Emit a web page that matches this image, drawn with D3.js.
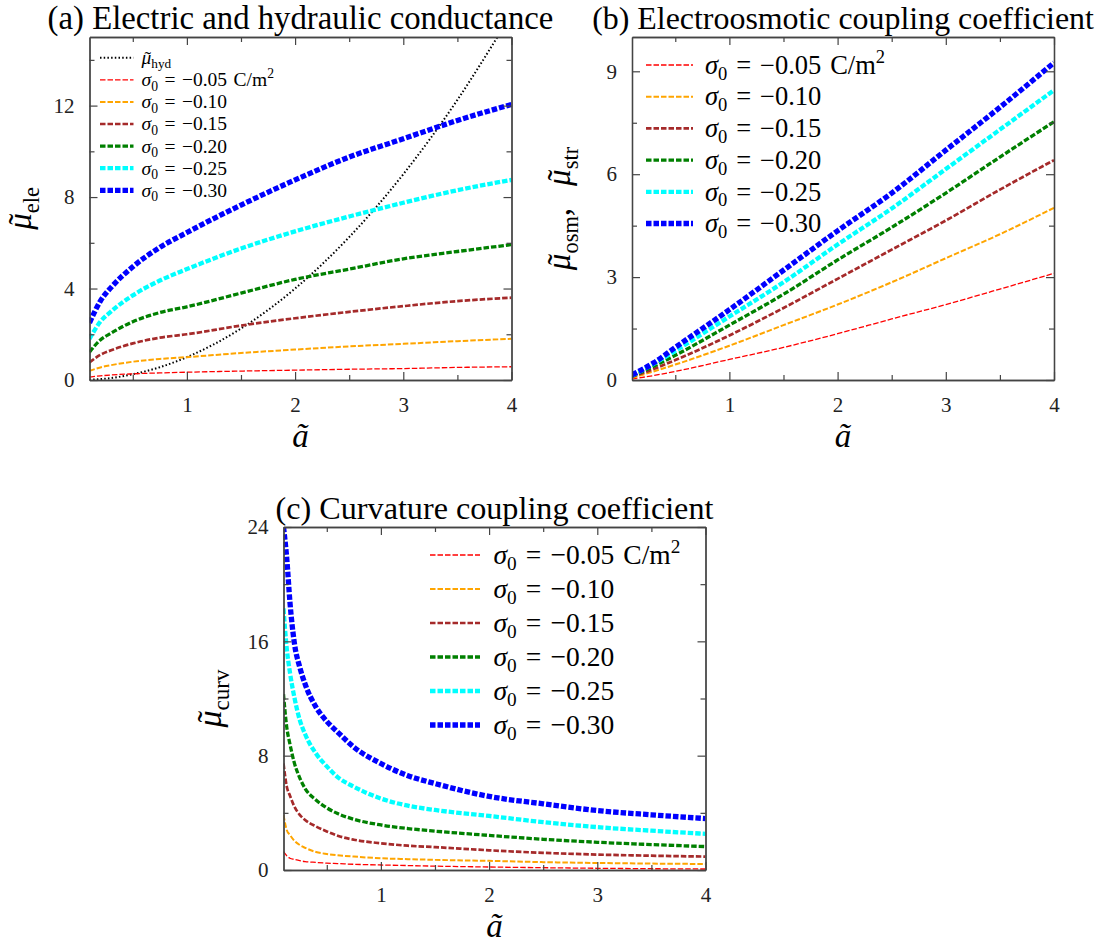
<!DOCTYPE html>
<html>
<head>
<meta charset="utf-8">
<script src="https://cdn.jsdelivr.net/npm/d3@7"></script>
<style>
  body { margin: 0; background: #fff; }
  svg text { font-family: "Liberation Serif", "Times New Roman", serif; fill: #000; }
</style>
</head>
<body>
<div class="chart"></div>
<script>

// ---- panel (a): electric conductance ----
var aEle  = [0.1, 0.2, 0.3, 0.5, 0.75, 1, 1.5, 2, 2.5, 3, 3.5, 4];
var ele05 = [0.13, 0.18, 0.22, 0.27, 0.31, 0.34, 0.39, 0.43, 0.47, 0.50, 0.55, 0.58];
var ele10 = [0.40, 0.55, 0.65, 0.80, 0.92, 1.00, 1.18, 1.33, 1.47, 1.58, 1.70, 1.80];
var ele15 = [0.77, 1.10, 1.30, 1.60, 1.85, 2.00, 2.38, 2.70, 2.98, 3.23, 3.45, 3.60];
var ele20 = [1.22, 1.75, 2.05, 2.55, 2.95, 3.20, 3.80, 4.40, 4.85, 5.30, 5.62, 5.92];
var ele25 = [1.80, 2.55, 3.00, 3.70, 4.35, 4.85, 5.75, 6.50, 7.15, 7.75, 8.30, 8.75];
var ele30 = [2.50, 3.45, 4.05, 4.95, 5.80, 6.45, 7.65, 8.75, 9.75, 10.55, 11.35, 12.05];

// hydraulic conductance (dotted)
var aHyd  = [0.1, 0.25, 0.5, 0.75, 1, 1.5, 2, 2.5, 3, 3.5, 3.87, 4];
var muHyd = [0.01, 0.06, 0.25, 0.56, 1.0, 2.25, 4.0, 6.25, 9.0, 12.25, 15.0, 16.0];

// ---- panel (b): electroosmotic coupling ----
var aOsm  = [0.1, 0.3, 0.5, 1, 1.5, 2, 2.5, 3, 3.5, 4];
var osm05 = [0.03, 0.13, 0.25, 0.60, 0.95, 1.35, 1.78, 2.20, 2.65, 3.11];
var osm10 = [0.06, 0.25, 0.45, 1.00, 1.60, 2.20, 2.85, 3.55, 4.25, 5.02];
var osm15 = [0.09, 0.32, 0.58, 1.30, 2.10, 2.95, 3.80, 4.65, 5.55, 6.41];
var osm20 = [0.11, 0.40, 0.72, 1.60, 2.50, 3.50, 4.45, 5.45, 6.50, 7.53];
var osm25 = [0.13, 0.47, 0.85, 1.85, 2.85, 3.95, 5.00, 6.15, 7.30, 8.45];
var osm30 = [0.15, 0.50, 0.95, 2.05, 3.20, 4.35, 5.45, 6.70, 7.95, 9.25];

// ---- panel (c): curvature coupling ----
var aCurv  = [0.1, 0.13, 0.16, 0.2, 0.25, 0.3, 0.4, 0.5, 0.6, 0.75, 1, 1.25, 1.5, 2, 2.5, 3, 3.5, 4];
var curv05 = [1.28, 1.00, 0.82, 0.74, 0.65, 0.59, 0.53, 0.48, 0.45, 0.40, 0.35, 0.31, 0.27, 0.21, 0.16, 0.12, 0.09, 0.07];
var curv10 = [3.85, 2.80, 2.45, 2.05, 1.75, 1.55, 1.26, 1.12, 1.03, 0.94, 0.82, 0.76, 0.71, 0.64, 0.55, 0.49, 0.45, 0.42];
var curv15 = [7.45, 5.85, 5.20, 4.45, 3.86, 3.50, 3.05, 2.70, 2.40, 2.12, 1.87, 1.70, 1.60, 1.38, 1.20, 1.08, 1.00, 0.94];
var curv20 = [12.3, 10.0, 8.80, 7.50, 6.45, 5.70, 4.90, 4.35, 3.95, 3.55, 3.15, 2.90, 2.72, 2.42, 2.15, 1.94, 1.78, 1.64];
var curv25 = [18.3, 15.5, 13.8, 12.1, 10.5, 9.50, 8.15, 7.25, 6.50, 5.83, 5.00, 4.50, 4.20, 3.78, 3.35, 3.00, 2.75, 2.53];
var curv30 = [24.0, 21.8, 18.7, 15.9, 14.2, 13.0, 11.4, 10.4, 9.65, 8.60, 7.45, 6.60, 6.05, 5.15, 4.63, 4.16, 3.86, 3.60];

var sigmaLabels = ["0.05", "0.10", "0.15", "0.20", "0.25", "0.30"];
var xMajor = [1, 2, 3, 4],
    xMinor = [0.5, 1.5, 2.5, 3.5];

// styles
var sigmaColors = ["#ff0000", "#ffa500", "#a52a2a", "#008000", "#00ffff", "#0000ff"];
var sigmaWidths = [1.3, 2, 2.7, 3.3, 4.3, 5.3];
var dash = "5.5,2";
var axisColor = "#444";
var serif = "'Liberation Serif', 'Times New Roman', serif";
var sp = "\u2004";   // a bit wider than a normal space, like TeX math spacing

var W = 1102, H = 944;
var boxW = 422, boxH = 343;

var svg = d3.select(".chart")
  .append("svg")
    .attr("width", W)
    .attr("height", H);

function zip(xs, ys) {
  var out = [];
  for (var i = 0; i < xs.length; i++) out.push([xs[i], ys[i]]);
  return out;
}

function measure(str, size, italic) {
  var t = svg.append("text")
    .style("font-size", size + "px")
    .style("font-style", italic ? "italic" : "normal")
    .text(str);
  var w = t.node().getComputedTextLength();
  t.remove();
  return w;
}

// italic mu with a tilde accent placed over it, then a subscript
function appendMuTilde(t, size, sub, subShift) {
  var wMu = measure("μ", size, true),
      wT  = measure("\u02DC", size, false),
      kern = size * 0.07;
  t.append("tspan").style("font-style", "italic").text("μ");
  t.append("tspan")
    .attr("dx", -(wMu + wT) / 2 + kern)
    .attr("dy", size * 0.02)
    .text("\u02DC");
  t.append("tspan")
    .attr("dx", (wMu - wT) / 2 - kern)
    .attr("dy", subShift - size * 0.02)
    .style("font-size", (size * 0.68) + "px")
    .text(sub);
}

// sigma_0 = -0.xx (C/m^2)
function sigmaText(g, x, y, size, value, unit) {
  var t = g.append("text")
    .attr("x", x)
    .attr("y", y + size * 0.33)
    .style("font-size", size + "px");
  t.append("tspan").style("font-style", "italic").text("σ");
  t.append("tspan").attr("dy", size * 0.22).style("font-size", (size * 0.7) + "px").text("0");
  t.append("tspan").attr("dy", -size * 0.22).text(sp + "=" + sp + "−" + value);
  if (unit) {
    t.append("tspan").text(sp + "C/m");
    t.append("tspan").attr("dy", -size * 0.4).style("font-size", (size * 0.7) + "px").text("2");
  }
  return t;
}

function drawPanel(opt) {

  var g = svg.append("g")
    .attr("transform", "translate(" + opt.left + "," + opt.top + ")");

  var x = d3.scaleLinear().domain([0.1, 4]).range([0, boxW]);
  var y = d3.scaleLinear().domain([0, opt.yMax]).range([boxH, 0]);

  var clipId = "clip-" + opt.id;
  g.append("clipPath").attr("id", clipId)
    .append("rect").attr("width", boxW).attr("height", boxH);

  var line = d3.line()
    .x(function(d) { return x(d[0]); })
    .y(function(d) { return y(d[1]); })
    .curve(d3.curveMonotoneX);

  var plot = g.append("g").attr("clip-path", "url(#" + clipId + ")");

  if (opt.hyd) {
    plot.append("path")
      .attr("d", line(zip(aHyd, muHyd)))
      .style("fill", "none")
      .style("stroke", "#000")
      .style("stroke-width", 2)
      .style("stroke-dasharray", "1.5,2.2");
  }

  for (var i = 0; i < opt.series.length; i++) {
    plot.append("path")
      .attr("d", line(zip(opt.xs, opt.series[i])))
      .style("fill", "none")
      .style("stroke", sigmaColors[i])
      .style("stroke-width", sigmaWidths[i])
      .style("stroke-dasharray", dash);
  }

  // axes: ticks point inward on all four sides
  var axes = [
    g.append("g").attr("transform", "translate(0," + boxH + ")")
      .call(d3.axisBottom(x).tickValues(xMajor).tickSize(-8).tickSizeOuter(0).tickPadding(17).tickFormat(d3.format("d"))),
    g.append("g").attr("transform", "translate(0," + boxH + ")")
      .call(d3.axisBottom(x).tickValues(xMinor).tickSize(-5).tickSizeOuter(0).tickFormat("")),
    g.append("g")
      .call(d3.axisTop(x).tickValues(xMajor).tickSize(-8).tickSizeOuter(0).tickFormat("")),
    g.append("g")
      .call(d3.axisTop(x).tickValues(xMinor).tickSize(-5).tickSizeOuter(0).tickFormat("")),
    g.append("g")
      .call(d3.axisLeft(y).tickValues(opt.yMajor).tickSize(-8).tickSizeOuter(0).tickPadding(15).tickFormat(d3.format("d"))),
    g.append("g")
      .call(d3.axisLeft(y).tickValues(opt.yMinor).tickSize(-5).tickSizeOuter(0).tickFormat("")),
    g.append("g").attr("transform", "translate(" + boxW + ",0)")
      .call(d3.axisRight(y).tickValues(opt.yMajor).tickSize(-8).tickSizeOuter(0).tickFormat("")),
    g.append("g").attr("transform", "translate(" + boxW + ",0)")
      .call(d3.axisRight(y).tickValues(opt.yMinor).tickSize(-5).tickSizeOuter(0).tickFormat(""))
  ];
  axes.forEach(function(a) {
    a.attr("font-family", serif).attr("font-size", 21);
    a.select(".domain").style("stroke", axisColor).style("stroke-width", 1.3);
    a.selectAll(".tick line").style("stroke", axisColor).style("stroke-width", 1.2);
    a.selectAll(".tick text")
      .style("font-family", serif)
      .style("font-size", "21px")
      .style("fill", "#222");
  });

  // title
  var title = g.append("text")
    .attr("x", boxW / 2)
    .attr("y", -8)
    .style("text-anchor", "middle")
    .style("font-size", "30px")
    .text(opt.title);
  var tw = title.node().getComputedTextLength();
  title.style("font-size", (30 * opt.titleWidth / tw) + "px");

  // x label
  g.append("text")
    .attr("x", boxW / 2)
    .attr("y", boxH + 67)
    .style("text-anchor", "middle")
    .style("font-size", "33px")
    .style("font-style", "italic")
    .text("ã");

  // y label (rotated)
  var ys = opt.yLabelSize;
  var yl = g.append("text")
    .style("font-size", ys + "px")
    .style("text-anchor", "middle")
    .attr("transform", "translate(" + opt.yLabelX + "," + (boxH / 2) + ") rotate(-90)");
  for (var p = 0; p < opt.yParts.length; p++) {
    if (p > 0) yl.append("tspan").attr("dy", -ys * 0.25).text("," + sp + sp);
    appendMuTilde(yl, ys, opt.yParts[p], ys * 0.25);
  }

  // legend
  var L = opt.legend;
  var row = 0;
  if (opt.hyd) {
    g.append("line")
      .attr("x1", L.x1).attr("x2", L.x2)
      .attr("y1", L.y).attr("y2", L.y)
      .style("stroke", "#000")
      .style("stroke-width", 2)
      .style("stroke-dasharray", "1.5,2.2");
    var ht = g.append("text")
      .attr("x", L.tx)
      .attr("y", L.y + L.size * 0.33)
      .style("font-size", L.size + "px");
    appendMuTilde(ht, L.size, "hyd", L.size * 0.2);
    row = 1;
  }
  for (var k = 0; k < sigmaLabels.length; k++) {
    var ly = L.y + (row + k) * L.step;
    g.append("line")
      .attr("x1", L.x1).attr("x2", L.x2)
      .attr("y1", ly).attr("y2", ly)
      .style("stroke", sigmaColors[k])
      .style("stroke-width", sigmaWidths[k])
      .style("stroke-dasharray", dash);
    sigmaText(g, L.tx, ly, L.size, sigmaLabels[k], k == 0);
  }
}

drawPanel({
  id: "a", left: 89.5, top: 37, yMax: 15,
  yMajor: [0, 4, 8, 12], yMinor: [2, 6, 10, 14],
  xs: aEle, series: [ele05, ele10, ele15, ele20, ele25, ele30], hyd: true,
  title: "(a) Electric and hydraulic conductance", titleWidth: 506,
  yParts: ["ele"], yLabelX: -58.5, yLabelSize: 33,
  legend: { x1: 10.5, x2: 44, tx: 52, y: 20.7, step: 22.1, size: 19.5 }
});

drawPanel({
  id: "b", left: 632, top: 37, yMax: 10,
  yMajor: [0, 3, 6, 9], yMinor: [1.5, 4.5, 7.5],
  xs: aOsm, series: [osm05, osm10, osm15, osm20, osm25, osm30], hyd: false,
  title: "(b) Electroosmotic coupling coefficient", titleWidth: 502,
  yParts: ["osm", "str"], yLabelX: -62, yLabelSize: 33,
  legend: { x1: 14, x2: 61, tx: 73, y: 28, step: 31.7, size: 26.5 }
});

drawPanel({
  id: "c", left: 283.5, top: 527, yMax: 24,
  yMajor: [0, 8, 16, 24], yMinor: [4, 12, 20],
  xs: aCurv, series: [curv05, curv10, curv15, curv20, curv25, curv30], hyd: false,
  title: "(c) Curvature coupling coefficient", titleWidth: 438,
  yParts: ["curv"], yLabelX: -63, yLabelSize: 34,
  legend: { x1: 146.5, x2: 196.5, tx: 210, y: 28, step: 34, size: 27.5 }
});

</script>
</body>
</html>
